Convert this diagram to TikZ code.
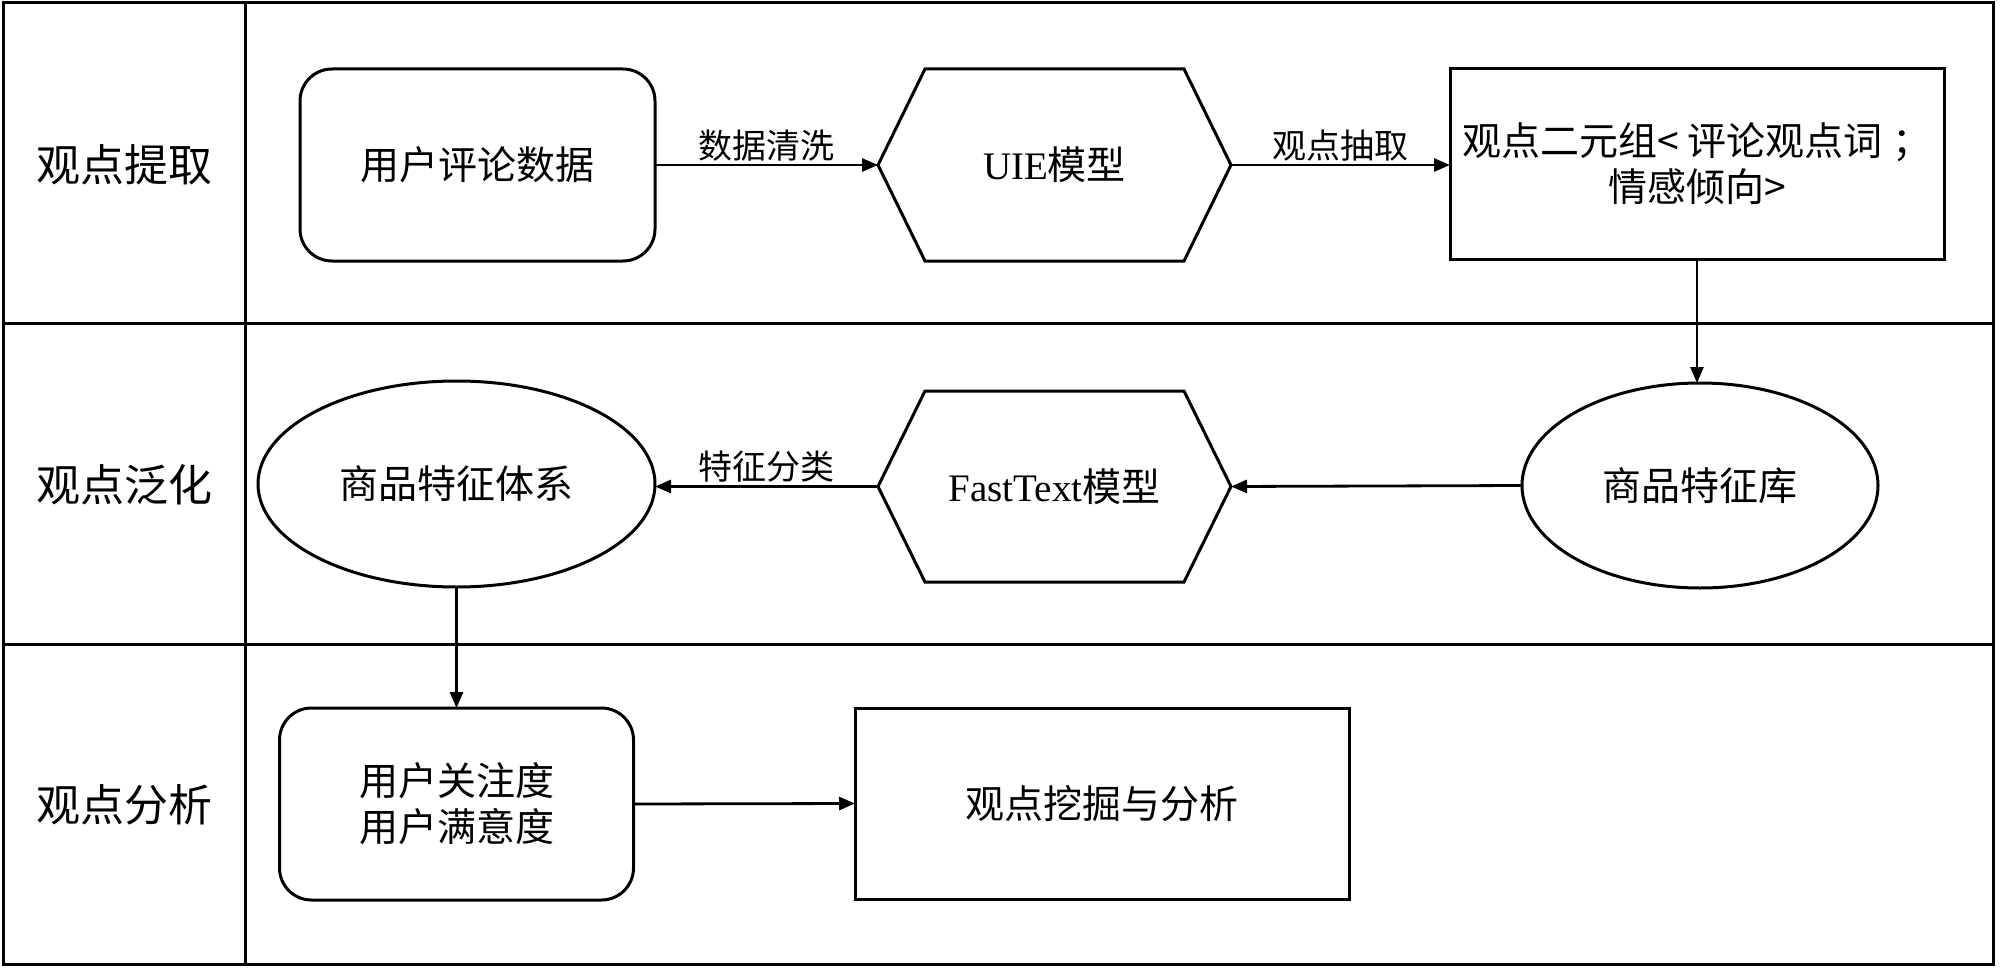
\documentclass[tikz,border=0pt]{standalone}
\usepackage{fontspec}
\setmainfont{Liberation Serif}
\newfontfamily\cjk{Noto Sans CJK SC}
\usetikzlibrary{shapes.geometric,arrows.meta}
\begin{document}
\begin{tikzpicture}[x=1pt,y=-1pt,
  frame/.style={line width=3pt},
  lanelabel/.style={font=\cjk\fontsize{44}{52}\selectfont, inner sep=0pt},
  txt/.style={font=\cjk\fontsize{39}{46}\selectfont, align=center, inner sep=0pt, outer sep=0pt},
  roundbox/.style={txt, draw, line width=3pt, rounded corners=32pt, minimum width=355pt, minimum height=192pt},
  sqbox/.style={txt, draw, line width=3pt, minimum width=494pt, minimum height=191pt},
  hexnode/.style={txt, minimum width=353pt, minimum height=192pt},
  hexline/.style={line width=3pt, line join=miter},
  ellnode/.style={txt, draw, ellipse, line width=3pt},
  arr/.style={line width=2.8pt, -{Triangle[length=16pt,width=13pt]}},
  elabel/.style={font=\cjk\fontsize{34}{40}\selectfont, inner sep=0pt}
]
\useasboundingbox (0,0) rectangle (2000,971);
% frame and lanes
\draw[frame] (3,3) rectangle (1993,964);
\draw[frame] (245,3) -- (245,964);
\draw[frame] (3,323) -- (1993,323);
\draw[frame] (3,644) -- (1993,644);
\node[lanelabel] (lane1) at (124,165) {观点提取};
\node[lanelabel] (lane2) at (124,485) {观点泛化};
\node[lanelabel] (lane3) at (124,805) {观点分析};
% row 1
\node[roundbox] (n1) at (477.5,165) {用户评论数据};
\node[hexnode] (uie) at (1054.5,165) {{\rmfamily UIE}模型};
\draw[hexline] ([xshift=47pt]uie.north west) -- ([xshift=-47pt]uie.north east) -- (uie.east) -- ([xshift=-47pt]uie.south east) -- ([xshift=47pt]uie.south west) -- (uie.west) -- cycle;
\node[sqbox] (n3) at (1697,164) {观点二元组< 评论观点词\hspace{0.25em}；\\情感倾向>};
% row 2
\node[ellnode, minimum width=356pt, minimum height=205pt] (lib) at (1700,485.5) {商品特征库};
\node[hexnode, minimum height=191pt] (ft) at (1054.5,486.5) {{\rmfamily FastText}模型};
\draw[hexline] ([xshift=47pt]ft.north west) -- ([xshift=-47pt]ft.north east) -- (ft.east) -- ([xshift=-47pt]ft.south east) -- ([xshift=47pt]ft.south west) -- (ft.west) -- cycle;
\node[ellnode, minimum width=397pt, minimum height=206pt] (sys) at (456.5,484) {商品特征体系};
% row 3
\node[roundbox, minimum width=354pt] (n7) at (456.5,804) {用户关注度\\用户满意度};
\node[sqbox] (n8) at (1102,803.5) {观点挖掘与分析};
% connectors
\draw[arr] (n1.east) -- node[elabel, yshift=19pt] (l1) {数据清洗} (uie.west);
\draw[arr] (uie.east) -- node[elabel, yshift=19pt] (l2) {观点抽取} (n3.west |- uie.east);
\draw[arr, line width=2.5pt] (n3.south) -- (n3.south |- lib.north);
\draw[arr] (lib.west) -- (ft.east);
\draw[arr] (ft.west) -- node[elabel, yshift=20pt] (l3) {特征分类} (sys.east |- ft.west);
\draw[arr, line width=2.5pt] (sys.south) -- (sys.south |- n7.north);
\draw[arr] (n7.east) -- (n8.west);
\end{tikzpicture}
\end{document}
